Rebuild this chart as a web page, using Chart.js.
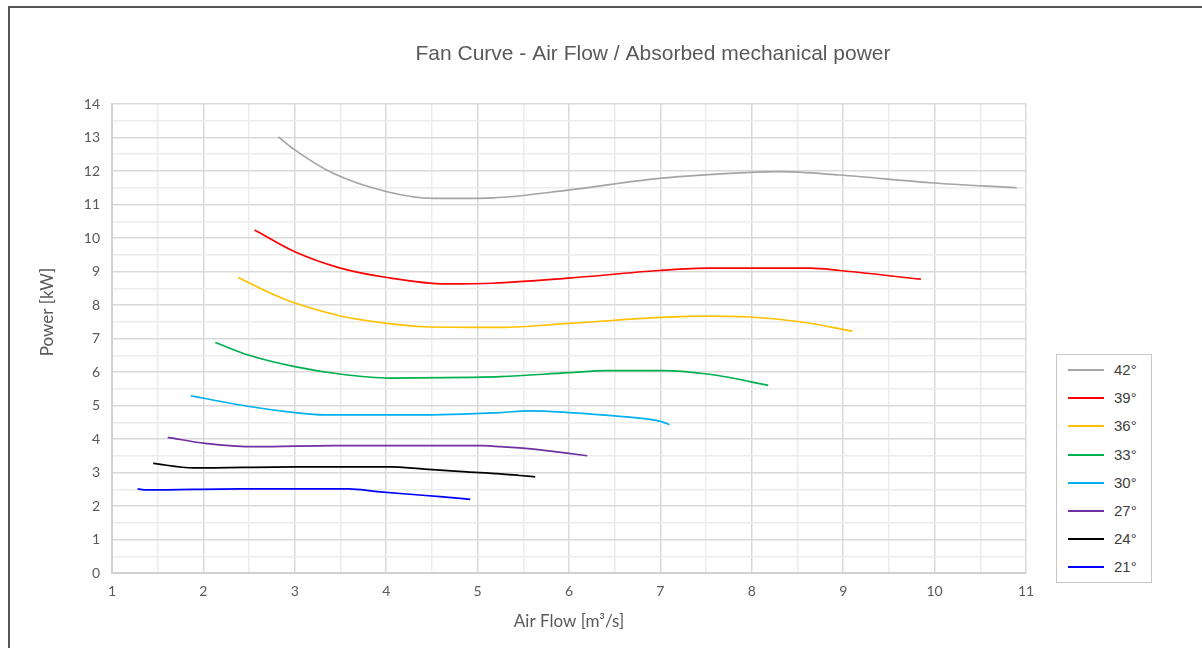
<!DOCTYPE html>
<html>
<head>
<meta charset="utf-8">
<script src="https://cdn.jsdelivr.net/npm/chart.js@4.4.1/dist/chart.umd.min.js"></script>
<style>
  html, body { margin: 0; padding: 0; background: #fff; }
  #wrap { position: relative; width: 1202px; height: 648px; overflow: hidden; }
  #frame { position: absolute; left: 8px; top: 6px; width: 1300px; height: 700px; border-left: 2px solid #555; border-top: 2px solid #555; box-sizing: border-box; pointer-events: none; }
  canvas { position: absolute; left: 0; top: 0; }
  #legend { position: absolute; left: 1056px; top: 354px; width: 96px; height: 229px; border: 1px solid #c8c8c8; box-sizing: border-box; background: #fff; }
  .li { position: absolute; left: 0; height: 20px; width: 94px; }
  .li .sw { position: absolute; left: 11px; top: 9px; width: 36px; height: 2px; }
  .li .tx { position: absolute; left: 57px; top: 1px; font: 15px "Liberation Sans", Arial, sans-serif; color: #404040; line-height: 18px; }
</style>
</head>
<body>
<div id="wrap">
  <canvas id="c" width="1202" height="648"></canvas>
  <div id="frame"></div>
  <div id="legend"></div>
</div>
<script>
const chartTitle = 'Fan Curve - Air Flow / Absorbed mechanical power';
const yTitle = 'Power [kW]';
const xTitle = 'Air Flow [m³/s]';
const labels = ['42°', '39°', '36°', '33°', '30°', '27°', '24°', '21°'];
const colors = ['#a5a5a5', '#ff0000', '#ffc000', '#00b050', '#00b0f0', '#7030a0', '#000000', '#0000ff'];

const flow42 = [2.82, 3.0, 3.42, 4.01, 4.52, 5.17, 5.99, 6.99, 7.98, 8.31, 8.96, 9.95, 10.9];
const power42 = [13.02, 12.63, 11.93, 11.38, 11.18, 11.20, 11.43, 11.78, 11.96, 11.98, 11.88, 11.65, 11.50];

const flow39 = [2.56, 3.0, 3.49, 4.01, 4.66, 5.17, 5.99, 6.99, 7.54, 8.64, 8.96, 9.85];
const power39 = [10.24, 9.59, 9.11, 8.82, 8.63, 8.65, 8.80, 9.03, 9.10, 9.10, 9.03, 8.77];

const flow36 = [2.38, 2.78, 3.0, 3.49, 4.01, 4.41, 5.25, 6.0, 7.01, 7.51, 7.94, 8.53, 9.1];
const power36 = [8.82, 8.30, 8.06, 7.68, 7.45, 7.35, 7.33, 7.45, 7.63, 7.67, 7.65, 7.50, 7.22];

const flow33 = [2.13, 2.5, 3.0, 3.49, 4.04, 4.94, 5.25, 6.0, 6.41, 7.03, 7.51, 7.9, 8.18];
const power33 = [6.88, 6.50, 6.16, 5.94, 5.82, 5.84, 5.86, 5.98, 6.04, 6.04, 5.94, 5.76, 5.60];

const flow30 = [1.86, 2.02, 2.5, 3.0, 3.31, 4.33, 5.25, 5.57, 6.0, 6.5, 7.01, 7.1];
const power30 = [5.29, 5.21, 4.97, 4.79, 4.72, 4.72, 4.79, 4.84, 4.79, 4.69, 4.52, 4.43];

const flow27 = [1.61, 2.02, 2.58, 3.42, 5.06, 5.25, 5.61, 6.0, 6.2];
const power27 = [4.05, 3.87, 3.77, 3.80, 3.80, 3.77, 3.70, 3.57, 3.50];

const flow24 = [1.45, 1.89, 3.0, 4.04, 4.42, 4.88, 5.25, 5.46, 5.63];
const power24 = [3.27, 3.14, 3.17, 3.17, 3.10, 3.02, 2.96, 2.91, 2.87];

const flow21 = [1.28, 1.38, 2.40, 3.59, 3.9, 4.26, 4.59, 4.92];
const power21 = [2.51, 2.48, 2.51, 2.51, 2.43, 2.35, 2.28, 2.20];

const xTicks = [1, 2, 3, 4, 5, 6, 7, 8, 9, 10, 11];
const yTicks = [0, 1, 2, 3, 4, 5, 6, 7, 8, 9, 10, 11, 12, 13, 14];

const flows = [flow42, flow39, flow36, flow33, flow30, flow27, flow24, flow21];
const powers = [power42, power39, power36, power33, power30, power27, power24, power21];

const datasets = labels.map((lab, i) => ({
  label: lab,
  data: flows[i].map((x, j) => ({ x: x, y: powers[i][j] })),
  borderColor: colors[i],
  backgroundColor: colors[i],
  borderWidth: 1.7,
  pointRadius: 0,
  showLine: true,
  fill: false,
  cubicInterpolationMode: 'monotone',
  tension: 0.4
}));

const gridColor = (ctx) => {
  const v = ctx.tick ? ctx.tick.value : 0;
  return Math.abs(v - Math.round(v)) < 1e-6 ? '#d9d9d9' : '#ececec';
};

const tickFont = { family: 'Lato, "Open Sans", sans-serif', size: 14 };

// Draws the chart title and the y-axis title at the positions they have in the reference
const titlesPlugin = {
  id: 'titles',
  afterDraw(chart) {
    const ctx = chart.ctx;
    ctx.save();
    ctx.fillStyle = '#595959';
    ctx.textAlign = 'center';
    ctx.textBaseline = 'middle';
    ctx.font = '21px "Liberation Sans", Arial, sans-serif';
    ctx.fillText(chartTitle, 653, 54);
    ctx.translate(48, 312);
    ctx.rotate(-Math.PI / 2);
    ctx.font = '17px Lato, "Open Sans", sans-serif';
    ctx.fillText(yTitle, 0, 0);
    ctx.restore();
  }
};

const chart = new Chart(document.getElementById('c'), {
  type: 'scatter',
  data: { datasets: datasets },
  plugins: [titlesPlugin],
  options: {
    responsive: false,
    animation: false,
    layout: { padding: { left: 0, right: 176, top: 104, bottom: 0 } },
    plugins: {
      legend: { display: false },
      tooltip: { enabled: false },
      title: { display: false }
    },
    scales: {
      x: {
        type: 'linear',
        min: 1, max: 11,
        ticks: {
          stepSize: 0.5,
          color: '#595959',
          font: tickFont,
          padding: 10,
          maxRotation: 0,
          autoSkip: false,
          callback: (v) => (Number.isInteger(v) && xTicks.includes(v)) ? String(v) : ''
        },
        grid: { color: gridColor, lineWidth: 1.5, drawTicks: false },
        border: { color: '#d0d0d0', width: 2 },
        title: {
          display: true,
          text: xTitle,
          color: '#595959',
          font: { family: 'Lato, "Open Sans", sans-serif', size: 17 },
          padding: { top: 4, bottom: 16 }
        },
        afterFit: (s) => { s.height = 75; }
      },
      y: {
        type: 'linear',
        min: 0, max: 14,
        ticks: {
          stepSize: 0.5,
          color: '#595959',
          font: tickFont,
          padding: 12,
          autoSkip: false,
          callback: (v) => (Number.isInteger(v) && yTicks.includes(v)) ? String(v) : ''
        },
        grid: { color: gridColor, lineWidth: 1.5, drawTicks: false },
        border: { color: '#d0d0d0', width: 2 },
        title: { display: false },
        afterFit: (s) => { s.width = 112; }
      }
    }
  }
});

// HTML legend built from the chart's datasets
const lg = document.getElementById('legend');
chart.data.datasets.forEach((ds, i) => {
  const row = document.createElement('div');
  row.className = 'li';
  row.style.top = (5 + i * 28.2) + 'px';
  const sw = document.createElement('div');
  sw.className = 'sw';
  sw.style.background = ds.borderColor;
  const tx = document.createElement('div');
  tx.className = 'tx';
  tx.textContent = ds.label;
  row.appendChild(sw);
  row.appendChild(tx);
  lg.appendChild(row);
});
</script>
</body>
</html>
